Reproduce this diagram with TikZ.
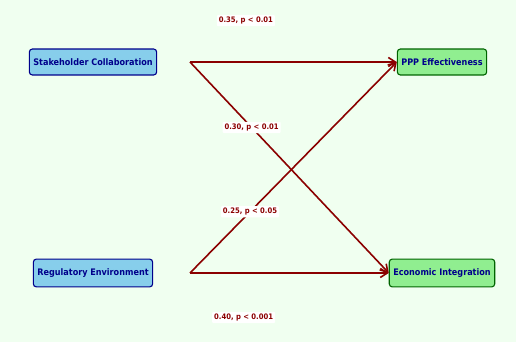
\documentclass[tikz,border=0pt]{standalone}
\usepackage{fontspec}
\newfontfamily\diagfont{DejaVu Sans Condensed}
\usetikzlibrary{positioning,arrows.meta}

\definecolor{bgcol}{HTML}{F0FFF0}
\definecolor{skyfill}{HTML}{87CEEB}
\definecolor{greenfill}{HTML}{90EE90}
\definecolor{darkgr}{HTML}{006400}
\definecolor{darkbl}{HTML}{00008B}
\definecolor{darkrd}{HTML}{8B0000}

\tikzset{
  factor/.style={draw=darkbl, fill=skyfill, rounded corners=3pt, line width=1.1pt,
    text=darkbl, font=\diagfont\bfseries\fontsize{9}{10}\selectfont,
    inner xsep=4pt, inner ysep=9.5pt},
  outcome/.style={factor, draw=darkgr, fill=greenfill},
  path/.style={draw=darkrd, line width=1.6pt, -{Straight Barb[length=7pt,width=9pt]}},
  coef/.style={fill=white, rounded corners=1pt, text=darkrd, inner sep=2pt,
    font=\diagfont\bfseries\fontsize{7.6}{9}\selectfont}
}

\begin{document}
\begin{tikzpicture}[x=1pt,y=1pt]
    \fill[bgcol] (0,0) rectangle (516,342);
    \useasboundingbox (0,0) rectangle (516,342);
    \node[factor] (stake) at (93,280) {Stakeholder Collaboration};
    \node[factor] (reg) at (93,69) {Regulatory Environment};
    \node[outcome] (ppp) at (442,280) {PPP Effectiveness};
    \node[outcome] (econ) at (442,69) {Economic Integration};
    \coordinate (stakeout) at (190,280);
    \coordinate (regout) at (190,69);
    % paths with coefficients
    \draw[path] (stakeout) -- (ppp.west) node[coef, pos=0.27, above=35pt] {0.35, p < 0.01};
    \draw[path] (stakeout) -- (econ.west) node[coef, pos=0.31] {0.30, p < 0.01};
    \draw[path] (regout) -- (ppp.west) node[coef, pos=0.29] {0.25, p < 0.05};
    \draw[path] (regout) -- (econ.west) node[coef, pos=0.27, below=38pt] {0.40, p < 0.001};
\end{tikzpicture}
\end{document}
